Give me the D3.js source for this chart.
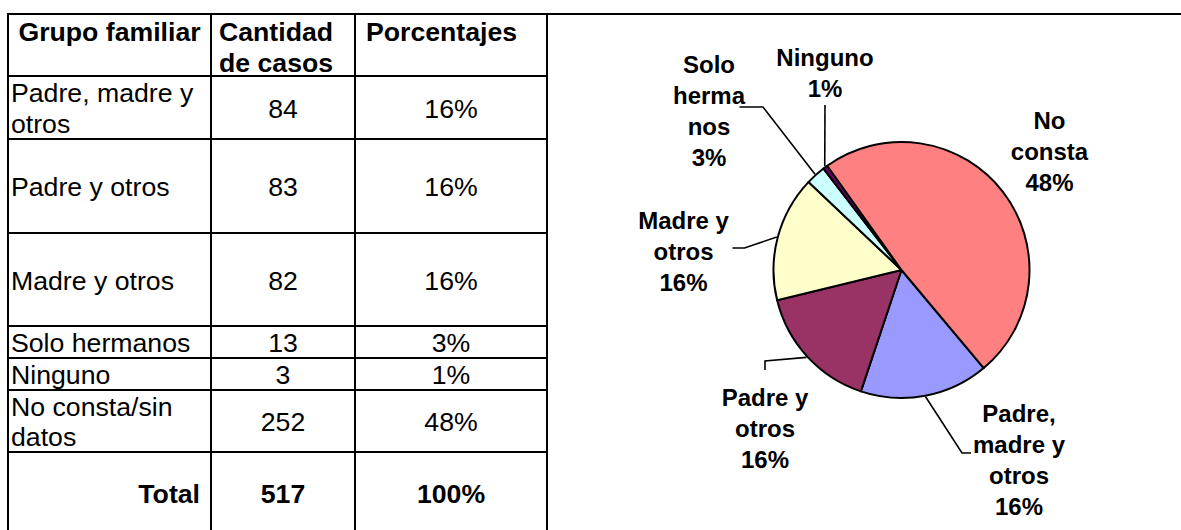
<!DOCTYPE html>
<html>
<head>
<meta charset="utf-8">
<script src="https://cdn.jsdelivr.net/npm/d3@7/dist/d3.min.js"></script>
<style>
  html, body { margin: 0; padding: 0; background: #fff; }
  svg { display: block; }
  text { font-family: "Liberation Sans", Arial, sans-serif; fill: #000; }
</style>
</head>
<body>
<svg id="chart" width="1181" height="530"></svg>
<script>
// --- datos ---
const categories = ["Padre, madre y otros", "Padre y otros", "Madre y otros", "Solo hermanos", "Ninguno", "No consta/sin datos"];
const casos = [84, 83, 82, 13, 3, 252];
const porcentajes = ["16%", "16%", "16%", "3%", "1%", "48%"];
const totalCasos = "517";
const totalPct = "100%";
const headers = [["Grupo familiar"], ["Cantidad", "de casos"], ["Porcentajes"]];
// texto de la primera columna tal como se corta en la tabla
const tableLabelLines = [["Padre, madre y", "otros"], ["Padre y otros"], ["Madre y otros"], ["Solo hermanos"], ["Ninguno"], ["No consta/sin", "datos"]];
// etiquetas del gráfico
const pieLabelLines = [["Padre,", "madre y", "otros", "16%"], ["Padre y", "otros", "16%"], ["Madre y", "otros", "16%"], ["Solo", "herma", "nos", "3%"], ["Ninguno", "1%"], ["No", "consta", "48%"]];
const sliceColors = ["#9999FF", "#993366", "#FFFFCC", "#CCFFFF", "#660066", "#FF8080"];

const svg = d3.select("#chart");

// --- tabla ---
const rowEdges = [14, 76, 139, 233, 326, 358, 390, 452, 534];
const colEdges = [8, 211, 355, 547];
const colMid = i => (colEdges[i] + colEdges[i + 1]) / 2;
const lh = 30.7;

const grid = svg.append("g").attr("stroke", "#000").attr("stroke-width", 2);
rowEdges.forEach((y, i) => {
  grid.append("line").attr("x1", colEdges[0] - 1).attr("x2", i === 0 ? 1181 : colEdges[3]).attr("y1", y).attr("y2", y);
});
colEdges.forEach(x => {
  grid.append("line").attr("x1", x).attr("x2", x).attr("y1", rowEdges[0]).attr("y2", 530);
});

const tbl = svg.append("g").style("font-size", "26.67px");

function cellText(lines, x, yMid, anchor, bold, top) {
  const n = lines.length;
  lines.forEach((t, j) => {
    const y = top != null ? top + j * lh : yMid + (j - (n - 1) / 2) * lh + 1;
    tbl.append("text")
      .attr("x", x).attr("y", y)
      .attr("text-anchor", anchor)
      .attr("dominant-baseline", "central")
      .style("font-weight", bold ? "bold" : "normal")
      .text(t);
  });
}

// encabezado
cellText(headers[0], colMid(0), null, "middle", true, 32);
cellText(headers[1], colEdges[1] + 8, null, "start", true, 32);
cellText(headers[2], colEdges[2] + 11, null, "start", true, 32);

// filas
categories.forEach((c, i) => {
  const yMid = (rowEdges[i + 1] + rowEdges[i + 2]) / 2;
  cellText(tableLabelLines[i], colEdges[0] + 3, yMid, "start", false);
  cellText([String(casos[i])], colMid(1), yMid, "middle", false);
  cellText([porcentajes[i]], colMid(2), yMid, "middle", false);
});

// total
const yTot = (rowEdges[7] + rowEdges[8]) / 2;
cellText(["Total"], colEdges[1] - 11, yTot, "end", true);
cellText([totalCasos], colMid(1), yTot, "middle", true);
cellText([totalPct], colMid(2), yTot, "middle", true);

// --- gráfico de torta ---
const cx = 901.5, cy = 270, r = 128;
const pie = d3.pie().sort(null)
  .startAngle(140 * Math.PI / 180)
  .endAngle(500 * Math.PI / 180);
const arcs = pie(casos);
const arc = d3.arc().innerRadius(0).outerRadius(r);
const edge = d3.arc().innerRadius(r + 1).outerRadius(r + 1);

const gPie = svg.append("g").attr("transform", `translate(${cx},${cy})`);
gPie.selectAll("path.slice").data(arcs).join("path")
  .attr("class", "slice")
  .attr("d", arc)
  .attr("fill", (d, i) => sliceColors[i])
  .attr("stroke", "#000")
  .attr("stroke-width", 2)
  .attr("stroke-linejoin", "round");

// posición de etiquetas (centro de la primera línea, relativo al centro) y quiebres de las guías
const labelPos = [[117.5, 143], [-136.5, 127], [-218, -50], [-192.5, -206], [-76.5, -213], [148, -150]];
const leaderKnees = [
  [[60.5, 183], [69.5, 183]],
  [[-136.5, 91], [-136.5, 100]],
  [[-157, -22], [-169, -22]],
  [[-138.5, -163], [-162, -163]],
  [[-76.5, -165]],
  null
];

const gLead = gPie.append("g").attr("fill", "none").attr("stroke", "#000").attr("stroke-width", 1.6);
arcs.forEach((d, i) => {
  if (!leaderKnees[i]) return;
  const pts = [edge.centroid(d)].concat(leaderKnees[i]);
  gLead.append("path").attr("d", d3.line()(pts));
});

const gLab = gPie.append("g").style("font-size", "24px").style("font-weight", "bold");
pieLabelLines.forEach((lines, i) => {
  lines.forEach((t, j) => {
    gLab.append("text")
      .attr("x", labelPos[i][0])
      .attr("y", labelPos[i][1] + j * 31)
      .attr("text-anchor", "middle")
      .attr("dominant-baseline", "central")
      .text(t);
  });
});
</script>
</body>
</html>
